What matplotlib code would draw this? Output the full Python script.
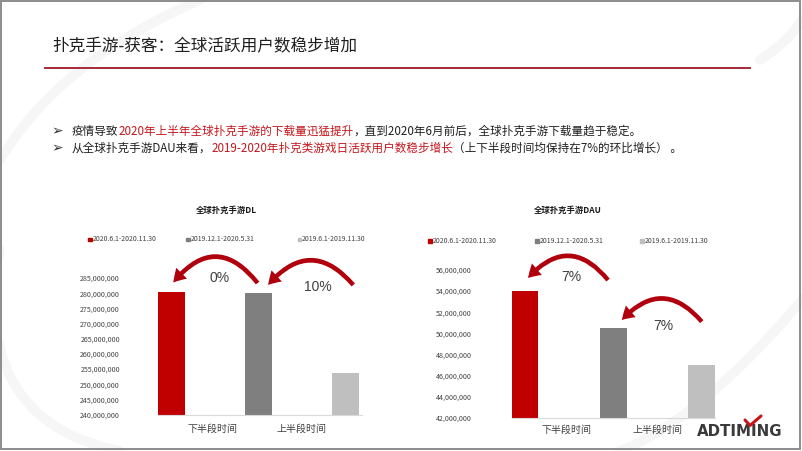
import matplotlib
matplotlib.use("Agg")
import matplotlib.pyplot as plt
import numpy as np
from matplotlib.lines import Line2D
from matplotlib.patches import Rectangle
from matplotlib.ticker import FuncFormatter

plt.rcParams['font.family'] = ['Noto Sans CJK SC', 'DejaVu Sans']

# ---------------- data ----------------
title = "扑克手游-获客：全球活跃用户数稳步增加"
series_names = ["2020.6.1-2020.11.30", "2019.12.1-2020.5.31", "2019.6.1-2019.11.30"]
series_colors = ["#C00000", "#7F7F7F", "#BFBFBF"]
categories = ["下半段时间", "上半段时间"]

dl_title = "全球扑克手游DL"
dl_values = [280300000, 280000000, 253800000]
dl_growth = ["0%", "10%"]

dau_title = "全球扑克手游DAU"
dau_values = [54000000, 50500000, 47000000]
dau_growth = ["7%", "7%"]

bullet1 = [("疫情导致", "dark"), ("2020年上半年全球扑克手游的下载量迅猛提升", "red"),
           ("，直到2020年6月前后，全球扑克手游下载量趋于稳定。", "dark")]
bullet2 = [("从全球扑克手游DAU来看，", "dark"), ("2019-2020年扑克类游戏日活跃用户数稳步增长", "red"),
           ("（上下半段时间均保持在7%的环比增长） 。", "dark")]

# ---------------- figure ----------------
W, H = 802, 451
fig = plt.figure(figsize=(W / 100, H / 100), dpi=100)
fig.patch.set_facecolor("white")

def fx(px):
    return px / W

def fy(py):
    return 1 - py / H

DARK = "#1F1F1F"
RED = "#C4161C"
tcol = {"dark": DARK, "red": RED}

# faint background swooshes
t = np.linspace(0, 1, 200)
for (x0, y0, x1, y1, cx, cy) in [(0, 250, 120, 451, -30, 420), (620, 451, 802, 300, 700, 420),
                                 (200, 0, 0, 160, 60, 60), (760, 60, 802, 20, 790, 40)]:
    xs = (1 - t) ** 2 * x0 + 2 * (1 - t) * t * cx + t ** 2 * x1
    ys = (1 - t) ** 2 * y0 + 2 * (1 - t) * t * cy + t ** 2 * y1
    fig.add_artist(Line2D(fx(xs), fy(ys), color="#F6F6F6", lw=7, zorder=0,
                          transform=fig.transFigure, solid_capstyle="round"))

# border
fig.add_artist(Rectangle((fx(1), fy(448.5)), fx(800) - fx(1), fy(0.7) - fy(448.5), fill=False,
                         edgecolor="#8C8C8C", lw=1.4, transform=fig.transFigure, zorder=5))

# title and rule
fig.text(fx(52), fy(47), title, fontsize=12, va="center", ha="left", color=DARK)
fig.add_artist(Line2D([fx(45), fx(750)], [fy(67.5), fy(67.5)], color="#A8283A", lw=1.4,
                      transform=fig.transFigure))

# bullets
renderer = fig.canvas.get_renderer()

def rich_line(x_px, y_px, pieces, size):
    x = x_px
    for s, c in pieces:
        tt = fig.text(fx(x), fy(y_px), s, fontsize=size, color=tcol[c], va="center", ha="left")
        bb = tt.get_window_extent(renderer)
        x += bb.width

for yb, pieces in [(131, bullet1), (148.3, bullet2)]:
    fig.text(fx(51), fy(yb), "➢", fontsize=10, color="#333333", va="center", ha="left",
             family="DejaVu Sans")
    rich_line(72, yb, pieces, 8.35)


def draw_chart(left, right, top, bottom, values, ylim, ystep, xlim, ypad, xpad, growth,
               arrows, labels_pos, ctitle, ctitle_xy, legend_x, legend_y):
    ax = fig.add_axes([fx(left), fy(bottom), fx(right) - fx(left), fy(top) - fy(bottom)])
    ax.set_facecolor("none")
    xs = np.arange(len(values))
    ax.bar(xs, values, width=0.305, color=series_colors, zorder=2)
    ax.set_xlim(*xlim)
    ax.set_ylim(*ylim)
    ax.set_yticks(np.arange(ylim[0], ylim[1] + 1, ystep))
    ax.yaxis.set_major_formatter(FuncFormatter(lambda v, p: f"{int(round(v)):,}"))
    for s in ["top", "right", "left"]:
        ax.spines[s].set_visible(False)
    ax.spines["bottom"].set_color("#D9D9D9")
    ax.spines["bottom"].set_linewidth(0.8)
    ax.tick_params(axis="y", length=0, pad=ypad, labelsize=5.1, labelcolor="#404040")
    ax.set_xticks([0.47, 1.5])
    ax.set_xticklabels(categories)
    ax.tick_params(axis="x", length=0, pad=xpad, labelsize=7.2, labelcolor="#404040")
    # growth arrows
    for (xt, yt, xh, yh, rad) in arrows:
        ax.annotate("", xy=(xh, yh), xycoords=("data", "axes fraction"),
                    xytext=(xt, yt), textcoords=("data", "axes fraction"),
                    arrowprops=dict(arrowstyle="simple,head_length=0.9,head_width=1.1,tail_width=0.32",
                                    mutation_scale=10, color="#B0000E",
                                    connectionstyle=f"arc3,rad={rad}",
                                    shrinkA=0, shrinkB=0, lw=0),
                    annotation_clip=False, zorder=4)
    for (gx, gy), g in zip(labels_pos, growth):
        ax.text(gx, gy, g, transform=ax.get_xaxis_transform(), fontsize=10, color="#404040",
                ha="center", va="center", family="Liberation Sans", clip_on=False)
    # chart title
    fig.text(fx(ctitle_xy[0]), fy(ctitle_xy[1]), ctitle, fontsize=6.0, weight="bold",
             color="#1A1A1A", ha="center", va="center")
    # legend
    for lx, name, col in zip(legend_x, series_names, series_colors):
        fig.add_artist(Rectangle((fx(lx - 1.6), fy(legend_y + 1.8)), 3.6 / W, 3.6 / H,
                                 color=col, transform=fig.transFigure))
        fig.text(fx(lx + 2.8), fy(legend_y), name, fontsize=5.0, color="#404040",
                 ha="left", va="center")
    return ax


# left chart (DL)
draw_chart(158, 362, 278, 414.5, dl_values, (240000000, 285000000), 5000000,
           (-0.155, 2.19), 27.4, 6.5, dl_growth,
           arrows=[(0.99, 0.963, 0.02, 0.967, 0.62), (2.09, 0.949, 1.11, 0.949, 0.58)],
           labels_pos=[(0.557, 0.998), (1.68, 0.936)],
           ctitle=dl_title, ctitle_xy=(226.7, 210), legend_x=[90, 187.7, 299.3], legend_y=239.3)

# right chart (DAU)
draw_chart(511.7, 715, 270, 418, dau_values, (42000000, 56000000), 2000000,
           (-0.15, 2.15), 28.6, 5.0, dau_growth,
           arrows=[(0.94, 0.932, 0.034, 0.946, 0.58), (2.0, 0.651, 1.095, 0.662, 0.56)],
           labels_pos=[(0.53, 0.955), (1.566, 0.622)],
           ctitle=dau_title, ctitle_xy=(568, 210), legend_x=[430, 536.7, 641.7], legend_y=240.7)

# logo
logo = fig.text(fx(697), fy(431), "ADTIMING", fontsize=10, weight="semibold", color="#3A3A3A",
                ha="left", va="center", family="DejaVu Sans")
lw_px = logo.get_window_extent(renderer).width
logo.set_fontsize(10 * 85 / lw_px)
fig.add_artist(Line2D([fx(745), fx(750), fx(761)], [fy(420), fy(425.5), fy(416)], color="#C4161C",
                      lw=2.2, transform=fig.transFigure, solid_capstyle="round", zorder=6))

fig.savefig("out.png", dpi=100, facecolor="white")
